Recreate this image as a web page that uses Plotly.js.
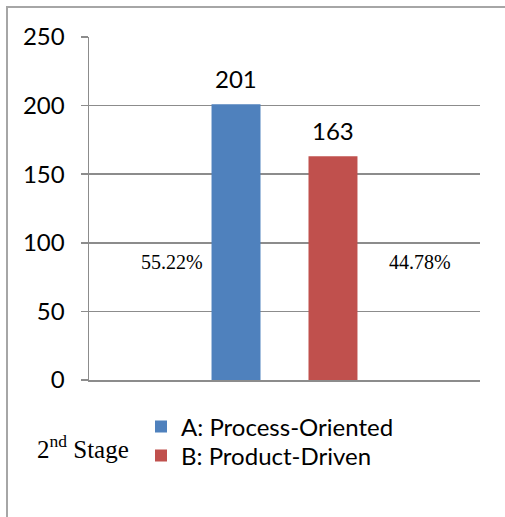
<!DOCTYPE html>
<html><head><meta charset="utf-8">
<script src="https://cdn.plot.ly/plotly-3.0.1.min.js"></script>
<style>
html,body{margin:0;padding:0;background:#fff;}
#chart{position:absolute;left:0;top:0;width:505px;height:517px;}
#frame{position:absolute;left:6px;top:6px;width:620px;height:620px;border:2px solid #a6a6a6;pointer-events:none;}
</style></head>
<body>
<div id="chart"></div>
<div id="frame"></div>
<script>
const seriesNames = ["A: Process-Oriented", "B: Product-Driven"];
const seriesValues = [201, 163];
const seriesColors = ["#4F81BD", "#C0504D"];
const percentLabels = ["55.22%", "44.78%"];
const yTicks = [0, 50, 100, 150, 200, 250];
const stageLabel = "2<sup>nd</sup> Stage";

const legendNames = ["legend", "legend2"];
const traces = seriesNames.map((n, i) => ({
  type: "bar",
  name: n,
  x: [n],
  y: [seriesValues[i]],
  width: 0.505,
  marker: {color: seriesColors[i]},
  legend: legendNames[i],
  hoverinfo: "none"
}));

const sansFont = {family: "Lato, Carlito, sans-serif", size: 24, color: "#000"};
const serifFont = {family: "Liberation Serif, Times New Roman, serif", size: 20, color: "#000"};

const annotations = seriesNames.map((n, i) => ({
  x: n, y: seriesValues[i], xref: "x", yref: "y",
  text: String(seriesValues[i]), showarrow: false,
  yanchor: "middle", yshift: 26,
  font: sansFont
}));
const pctPos = [[0.212, 0.344], [0.847, 0.344]];
percentLabels.forEach((p, i) => annotations.push({
  x: pctPos[i][0], y: pctPos[i][1], xref: "paper", yref: "paper",
  text: p, showarrow: false, xanchor: "center", yanchor: "middle",
  font: serifFont
}));
annotations.push({
  x: -0.015, y: -0.195, xref: "paper", yref: "paper",
  text: stageLabel, showarrow: false, xanchor: "center", yanchor: "middle",
  font: {family: "Liberation Serif, Times New Roman, serif", size: 25, color: "#000"}
});

const legendBase = {
  x: 0.133, xanchor: "left", yanchor: "middle",
  font: sansFont, bgcolor: "rgba(0,0,0,0)", borderwidth: 0
};

const layout = {
  width: 505, height: 517,
  margin: {l: 89, r: 25, t: 37, b: 137},
  paper_bgcolor: "#fff", plot_bgcolor: "#fff",
  barmode: "overlay",
  showlegend: true,
  legend: Object.assign({}, legendBase, {y: -0.137}),
  legend2: Object.assign({}, legendBase, {y: -0.2216}),
  xaxis: {
    type: "category", range: [-1.516, 2.516],
    showticklabels: false, ticks: "", showgrid: false,
    showline: true, linecolor: "#8c8c8c", linewidth: 1.5, zeroline: false, fixedrange: true
  },
  yaxis: {
    range: [0, 250], tickvals: yTicks, ticktext: yTicks.map(String),
    ticks: "outside", ticklen: 7, tickcolor: "#8c8c8c", tickwidth: 1.5,
    showgrid: true, gridcolor: "#8c8c8c", gridwidth: 1.5,
    showline: true, linecolor: "#8c8c8c", linewidth: 1.5, zeroline: false,
    ticklabelstandoff: 11,
    tickfont: sansFont, fixedrange: true
  },
  annotations: annotations
};
Plotly.newPlot("chart", traces, layout, {displayModeBar: false, staticPlot: true});
</script>
</body></html>
